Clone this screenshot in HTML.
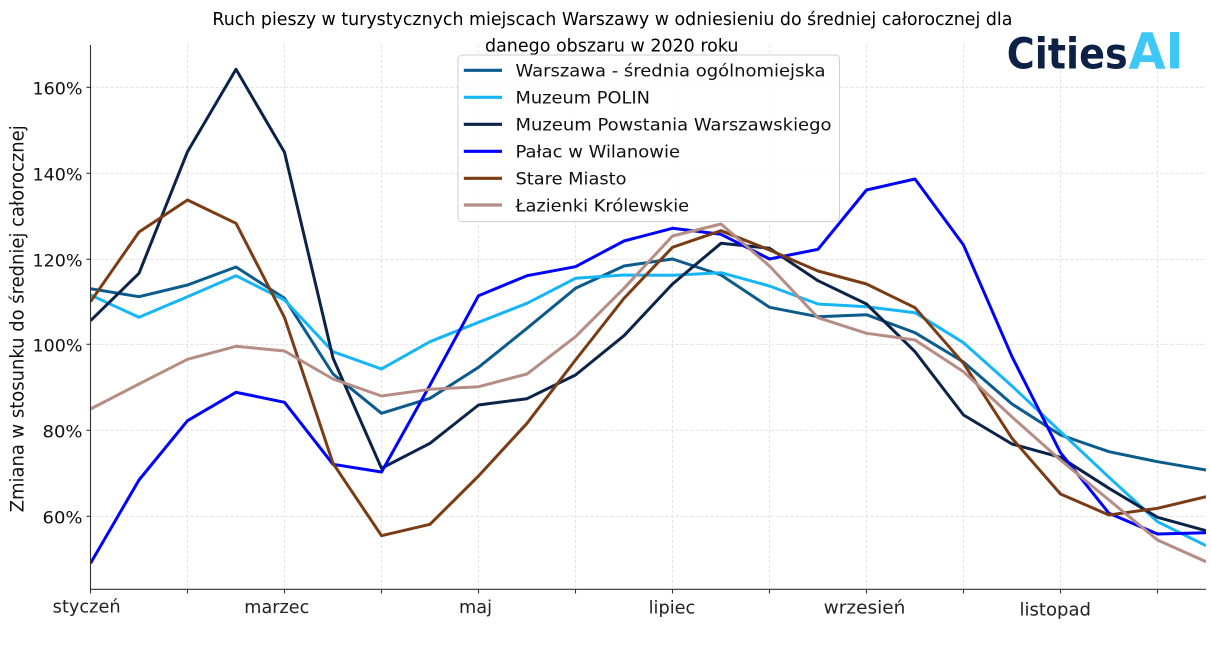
<!DOCTYPE html>
<html><head><meta charset="utf-8"><style>
html,body{margin:0;padding:0;background:#fff;}
svg{display:block;}
text{font-family:"DejaVu Sans","Liberation Sans",sans-serif;}
</style></head><body>
<svg width="1211" height="660" viewBox="0 0 1211 660" xmlns="http://www.w3.org/2000/svg">
<rect width="1211" height="660" fill="#fff"/>
<defs><clipPath id="ax"><rect x="90.5" y="45" width="1115.5" height="544.3"/></clipPath></defs>
<!-- grid -->
<g stroke="#dcdcdc" stroke-width="0.8" stroke-dasharray="3,2" fill="none">
<line x1="90.5" y1="87.3" x2="1206" y2="87.3"/>
<line x1="90.5" y1="173.3" x2="1206" y2="173.3"/>
<line x1="90.5" y1="259.3" x2="1206" y2="259.3"/>
<line x1="90.5" y1="344.3" x2="1206" y2="344.3"/>
<line x1="90.5" y1="430.3" x2="1206" y2="430.3"/>
<line x1="90.5" y1="516.3" x2="1206" y2="516.3"/>
<line x1="187.5" y1="45" x2="187.5" y2="589"/>
<line x1="284.5" y1="45" x2="284.5" y2="589"/>
<line x1="381.5" y1="45" x2="381.5" y2="589"/>
<line x1="478.5" y1="45" x2="478.5" y2="589"/>
<line x1="575.5" y1="45" x2="575.5" y2="589"/>
<line x1="672.5" y1="45" x2="672.5" y2="589"/>
<line x1="769.5" y1="45" x2="769.5" y2="589"/>
<line x1="866.5" y1="45" x2="866.5" y2="589"/>
<line x1="963.5" y1="45" x2="963.5" y2="589"/>
<line x1="1060.5" y1="45" x2="1060.5" y2="589"/>
<line x1="1157.5" y1="45" x2="1157.5" y2="589"/>
</g>
<!-- series -->
<g clip-path="url(#ax)" fill="none" stroke-width="3" stroke-linejoin="round">
<polyline stroke="#0b5b8c" points="90.5,288.7 139,296.7 187.5,285 236,267 284.5,298.3 333,374 381.5,413.3 430,398.3 478.5,367.3 527,328.3 575.5,288.3 624,266 672.5,259 721,275 769.5,307.3 818,316.7 866.5,314.7 915,332.7 963.5,362 1012,404 1060.5,435 1109,451.7 1157.5,461.7 1206,470"/>
<polyline stroke="#16b5f5" points="90.5,295 139,317.3 187.5,296.7 236,275.7 284.5,300 333,351.7 381.5,369 430,341.7 478.5,322.3 527,303.3 575.5,278.3 624,275 672.5,275.3 721,272.7 769.5,286 818,304 866.5,306.7 915,312.7 963.5,342.7 1012,386 1060.5,431.7 1109,477.3 1157.5,521.7 1206,545.7"/>
<polyline stroke="#0c2349" points="90.5,320.7 139,273.3 187.5,151.7 236,69.3 284.5,152.3 333,358 381.5,468.3 430,443.3 478.5,405 527,398.7 575.5,375 624,335.7 672.5,284 721,243.3 769.5,248.3 818,280.7 866.5,304 915,351.7 963.5,415 1012,444 1060.5,457.3 1109,488.3 1157.5,517.3 1206,530.7"/>
<polyline stroke="#0000ff" points="90.5,563.3 139,480 187.5,420.7 236,392.3 284.5,402.3 333,464.3 381.5,472 430,385 478.5,295.7 527,275.7 575.5,266.7 624,241 672.5,228.3 721,234.3 769.5,259 818,249.3 866.5,190 915,179 963.5,245 1012,356.7 1060.5,452.7 1109,513.3 1157.5,534 1206,532.7"/>
<polyline stroke="#7a3c14" points="90.5,301.7 139,232 187.5,200 236,223.3 284.5,317.5 333,463.3 381.5,535.7 430,524.3 478.5,476 527,423.3 575.5,360 624,298.3 672.5,247.3 721,230.7 769.5,250 818,271 866.5,284 915,307.7 963.5,363.3 1012,438.3 1060.5,494 1109,515 1157.5,508.3 1206,496.7"/>
<polyline stroke="#b58d85" points="90.5,409 139,384 187.5,359.3 236,346.3 284.5,351 333,379 381.5,396 430,389.3 478.5,386.7 527,374 575.5,336.7 624,288.3 672.5,236 721,224 769.5,266 818,317.7 866.5,333.3 915,340 963.5,371.7 1012,417 1060.5,460 1109,500 1157.5,540 1206,561.7"/>
</g>
<!-- spines & ticks -->
<g stroke="#333" stroke-width="1.1" fill="none">
<line x1="90.5" y1="45" x2="90.5" y2="589.3"/>
<line x1="90" y1="589.3" x2="1206" y2="589.3"/>
<line x1="86.5" y1="87.3" x2="90.5" y2="87.3"/>
<line x1="86.5" y1="173.3" x2="90.5" y2="173.3"/>
<line x1="86.5" y1="259.3" x2="90.5" y2="259.3"/>
<line x1="86.5" y1="344.3" x2="90.5" y2="344.3"/>
<line x1="86.5" y1="430.3" x2="90.5" y2="430.3"/>
<line x1="86.5" y1="516.3" x2="90.5" y2="516.3"/>
<line x1="90.5" y1="589.3" x2="90.5" y2="593.5"/>
<line x1="187.5" y1="589.3" x2="187.5" y2="593.5"/>
<line x1="284.5" y1="589.3" x2="284.5" y2="593.5"/>
<line x1="381.5" y1="589.3" x2="381.5" y2="593.5"/>
<line x1="478.5" y1="589.3" x2="478.5" y2="593.5"/>
<line x1="575.5" y1="589.3" x2="575.5" y2="593.5"/>
<line x1="672.5" y1="589.3" x2="672.5" y2="593.5"/>
<line x1="769.5" y1="589.3" x2="769.5" y2="593.5"/>
<line x1="866.5" y1="589.3" x2="866.5" y2="593.5"/>
<line x1="963.5" y1="589.3" x2="963.5" y2="593.5"/>
<line x1="1060.5" y1="589.3" x2="1060.5" y2="593.5"/>
<line x1="1157.5" y1="589.3" x2="1157.5" y2="593.5"/>
</g>
<!-- y tick labels -->
<g font-size="17" fill="#111" text-anchor="end">
<text x="82.5" y="94.3" textLength="50" lengthAdjust="spacingAndGlyphs">160%</text>
<text x="82.5" y="180.3" textLength="50" lengthAdjust="spacingAndGlyphs">140%</text>
<text x="82.5" y="266.3" textLength="50" lengthAdjust="spacingAndGlyphs">120%</text>
<text x="82.5" y="351.3" textLength="50" lengthAdjust="spacingAndGlyphs">100%</text>
<text x="82.5" y="437.3" textLength="40" lengthAdjust="spacingAndGlyphs">80%</text>
<text x="82.5" y="523.3" textLength="40" lengthAdjust="spacingAndGlyphs">60%</text>
</g>
<!-- x tick labels -->
<g font-size="17.5" fill="#222">
<text x="52.7" y="612.7" textLength="68" lengthAdjust="spacingAndGlyphs">styczeń</text>
<text x="244.3" y="613" textLength="65" lengthAdjust="spacingAndGlyphs">marzec</text>
<text x="459" y="613" textLength="33" lengthAdjust="spacingAndGlyphs">maj</text>
<text x="648.6" y="613.5" textLength="46.7" lengthAdjust="spacingAndGlyphs">lipiec</text>
<text x="823.7" y="613.3" textLength="81.7" lengthAdjust="spacingAndGlyphs">wrzesień</text>
<text x="1019.5" y="615.5" textLength="71.5" lengthAdjust="spacingAndGlyphs">listopad</text>
</g>
<!-- y axis label -->
<text transform="translate(23.7,318.8) rotate(-90)" text-anchor="middle" font-size="18.5" fill="#111" textLength="387" lengthAdjust="spacingAndGlyphs">Zmiana w stosunku do średniej całorocznej</text>
<!-- title -->
<text x="212.4" y="25" font-size="17.5" fill="#000" textLength="800" lengthAdjust="spacingAndGlyphs">Ruch pieszy w turystycznych miejscach Warszawy w odniesieniu do średniej całorocznej dla</text>
<text x="485" y="51.7" font-size="17.5" fill="#000" textLength="253.5" lengthAdjust="spacingAndGlyphs">danego obszaru w 2020 roku</text>
<!-- logo -->
<text x="1006.7" y="68.7" font-size="43" font-weight="bold" fill="#0d2147" textLength="121" lengthAdjust="spacingAndGlyphs">Cities</text>
<text x="1128.5" y="68.7" font-size="50" font-weight="bold" fill="#3ec8f7" textLength="55" lengthAdjust="spacingAndGlyphs">AI</text>
<!-- legend -->
<rect x="458" y="55" width="381.5" height="166.5" rx="4" ry="4" fill="#fff" fill-opacity="0.85" stroke="#cfcfcf" stroke-width="1"/>
<g stroke-width="3.2" fill="none">
<line x1="463.8" y1="70.3" x2="502" y2="70.3" stroke="#0b5b8c"/>
<line x1="463.8" y1="97.3" x2="502" y2="97.3" stroke="#16b5f5"/>
<line x1="463.8" y1="124.3" x2="502" y2="124.3" stroke="#0c2349"/>
<line x1="463.8" y1="151.3" x2="502" y2="151.3" stroke="#0000ff"/>
<line x1="463.8" y1="178.3" x2="502" y2="178.3" stroke="#7a3c14"/>
<line x1="463.8" y1="205" x2="502" y2="205" stroke="#b58d85"/>
</g>
<g font-size="17" fill="#111">
<text x="515.5" y="76.3" textLength="310" lengthAdjust="spacingAndGlyphs">Warszawa - średnia ogólnomiejska</text>
<text x="515.5" y="103.3" textLength="134.5" lengthAdjust="spacingAndGlyphs">Muzeum POLIN</text>
<text x="515.5" y="130.3" textLength="316" lengthAdjust="spacingAndGlyphs">Muzeum Powstania Warszawskiego</text>
<text x="515.5" y="157.3" textLength="164.5" lengthAdjust="spacingAndGlyphs">Pałac w Wilanowie</text>
<text x="515.5" y="184.3" textLength="111" lengthAdjust="spacingAndGlyphs">Stare Miasto</text>
<text x="515.5" y="211.3" textLength="173.6" lengthAdjust="spacingAndGlyphs">Łazienki Królewskie</text>
</g>
</svg>
</body></html>
